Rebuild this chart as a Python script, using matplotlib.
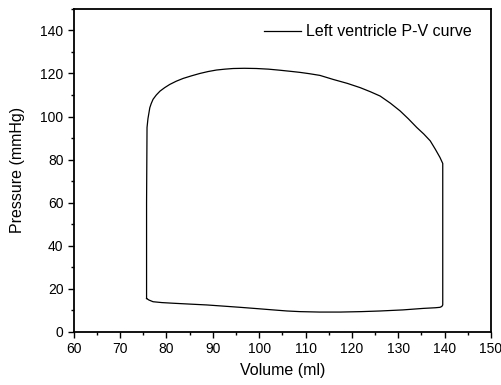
import numpy as np
import matplotlib.pyplot as plt
from matplotlib.ticker import MultipleLocator

plt.rcParams['font.family'] = ['Liberation Sans', 'DejaVu Sans']

# Left ventricle P-V loop (counter-clockwise from lower left)
volume = [75.7, 76.2, 77.1, 79.0, 81.4, 85.0, 88.7, 92.0, 95.9, 99.5, 103.0,
          106.0, 108.8, 113.0, 117.5, 122.0, 126.1, 131.0, 135.4, 138.0, 139.0,
          139.4, 139.6,
          139.6, 139.6, 139.0, 138.0, 136.9, 135.5, 134.0, 132.2, 130.4, 128.3,
          126.1, 124.0, 121.8, 119.0, 116.0, 113.1, 110.8, 108.8, 106.7, 104.5,
          102.0, 99.4, 96.8, 94.4, 92.6, 90.8, 89.0, 87.2, 85.4, 83.6, 82.1,
          80.7, 79.6, 78.6, 77.8, 77.1, 76.7, 76.4, 76.0, 75.8, 75.7, 75.7]
pressure = [15.5, 14.8, 14.0, 13.6, 13.3, 12.9, 12.5, 12.0, 11.4, 10.8, 10.2,
            9.7, 9.4, 9.2, 9.2, 9.4, 9.7, 10.2, 10.9, 11.2, 11.4,
            11.8, 12.5,
            45.0, 78.2, 81.0, 84.8, 88.7, 91.9, 94.9, 98.9, 102.6, 106.2,
            109.5, 111.5, 113.4, 115.4, 117.2, 119.1, 119.9, 120.5, 121.0, 121.5,
            122.0, 122.3, 122.4, 122.3, 122.0, 121.6, 120.9, 120.0, 118.9, 117.7,
            116.4, 114.9, 113.4, 111.8, 110.0, 108.0, 106.0, 104.1, 99.0, 94.9,
            60.0, 15.5]

fig = plt.figure(figsize=(5.02, 3.85), dpi=100)
ax = fig.add_axes([0.147, 0.138, 0.831, 0.839])

ax.plot(volume, pressure, color='black', linewidth=0.9, label='Left ventricle P-V curve')

ax.set_xlim(60, 150)
ax.set_ylim(0, 150)
ax.xaxis.set_major_locator(MultipleLocator(10))
ax.xaxis.set_minor_locator(MultipleLocator(5))
ax.yaxis.set_major_locator(MultipleLocator(20))
ax.yaxis.set_minor_locator(MultipleLocator(10))
ax.tick_params(which='major', direction='out', length=4, width=1, labelsize=10, colors='black')
ax.tick_params(which='minor', direction='out', length=2.5, width=1)
for s in ax.spines.values():
    s.set_linewidth(1.3)

ax.set_xlabel('Volume (ml)', fontsize=11.5, labelpad=5)
ax.set_ylabel('Pressure (mmHg)', fontsize=11.5, labelpad=11)

ax.legend(loc='upper right', frameon=False, fontsize=11.5, handlelength=2.3,
          handletextpad=0.3, bbox_to_anchor=(0.988, 0.997))

fig.savefig('out.png', dpi=100)
